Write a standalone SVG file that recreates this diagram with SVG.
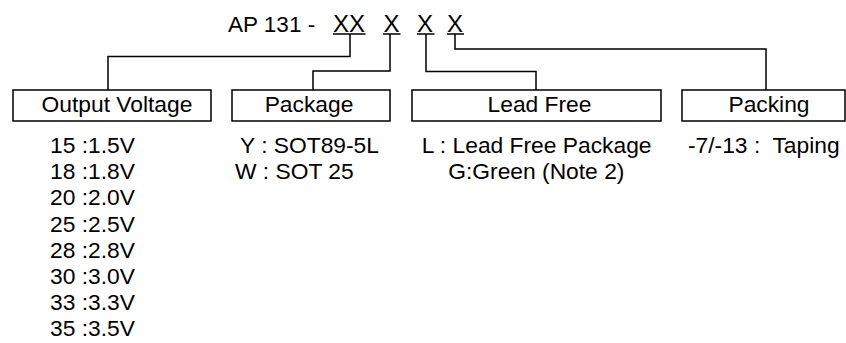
<svg xmlns="http://www.w3.org/2000/svg" width="846" height="343" viewBox="0 0 846 343">
<style>
text{font-family:"Liberation Sans",Arial,sans-serif;font-size:22.8px;fill:#000}
.t{font-size:24px}
.box{fill:#fff;stroke:#000;stroke-width:1.5}
.c{fill:none;stroke:#000;stroke-width:1.5}
.m{text-anchor:middle}
</style>
<rect width="846" height="343" fill="#fff"/>
<g id="title">
<text class="t" y="31.7"><tspan x="228" font-size="22.5">AP 131 -</tspan> <tspan x="333">XX</tspan> <tspan x="383.5">X</tspan> <tspan x="417">X</tspan> <tspan x="447">X</tspan></text>
<g class="c">
<line x1="333" y1="34" x2="365.5" y2="34"/>
<line x1="383" y1="34" x2="400.5" y2="34"/>
<line x1="417" y1="34" x2="434.5" y2="34"/>
<line x1="447" y1="34" x2="464" y2="34"/>
</g>
</g>
<g id="connectors" class="c">
<polyline points="350,34 350,56.5 108,56.5 108,90"/>
<polyline points="390,34 390,71 313,71 313,90"/>
<polyline points="426,34 426,71.5 536,71.5 536,90"/>
<polyline points="455,34 455,49 766,49 766,90"/>
</g>
<g id="output-voltage">
<rect class="box" x="13" y="90" width="198" height="31"/>
<text class="m" x="117" y="112">Output Voltage</text>
<text x="50" y="153">15 :1.5V</text>
<text x="50" y="179.2">18 :1.8V</text>
<text x="50" y="205.4">20 :2.0V</text>
<text x="50" y="231.6">25 :2.5V</text>
<text x="50" y="257.8">28 :2.8V</text>
<text x="50" y="284">30 :3.0V</text>
<text x="50" y="310.2">33 :3.3V</text>
<text x="50" y="336.4">35 :3.5V</text>
</g>
<g id="package">
<rect class="box" x="232" y="90" width="158" height="31"/>
<text class="m" x="309" y="112">Package</text>
<text x="240" y="153">Y : SOT89-5L</text>
<text x="235" y="179.2">W : SOT 25</text>
</g>
<g id="lead-free">
<rect class="box" x="412" y="90" width="249" height="31"/>
<text class="m" x="539.5" y="112">Lead Free</text>
<text x="421.7" y="153">L : Lead Free Package</text>
<text x="448.3" y="179.2">G:Green (Note 2)</text>
</g>
<g id="packing">
<rect class="box" x="682" y="90" width="163" height="31"/>
<text class="m" x="769" y="112">Packing</text>
<text x="688" y="153" xml:space="preserve">-7/-13 :  Taping</text>
</g>
</svg>
